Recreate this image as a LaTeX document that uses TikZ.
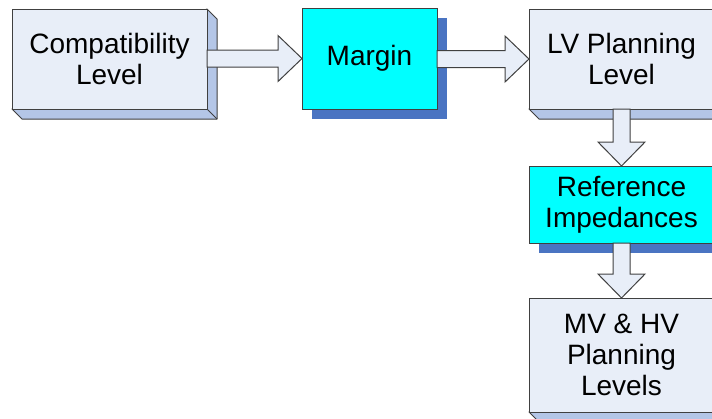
\documentclass[tikz,border=0pt]{standalone}
\usepackage{fontspec}
\setmainfont{Liberation Sans}
\usetikzlibrary{calc}
\definecolor{facec}{HTML}{E8EEF8}
\definecolor{bevelc}{HTML}{B4C6E7}
\definecolor{shadowc}{HTML}{4A74C2}
\definecolor{edgec}{HTML}{404040}
\definecolor{cyanc}{HTML}{00FFFF}
\pgfdeclarelayer{background}
\pgfsetlayers{background,main}
\tikzset{
  txt/.style={font=\fontsize{28}{31}\selectfont, align=center, text=black},
  plainbox/.style={txt, rectangle, draw=edgec, line width=1pt, fill=facec, inner sep=0pt, outer sep=0pt},
  cyanbox/.style={txt, rectangle, draw=edgec, line width=1pt, fill=cyanc, inner sep=0pt, outer sep=0pt},
  bevelsty/.style={fill=bevelc, draw=edgec, line width=1pt, line join=round},
  shadowsty/.style={fill=shadowc},
  arrowsty/.style={fill=facec, draw=edgec, line width=1pt, line join=miter}
}
\newcommand\mybevel[1]{%
  \filldraw[bevelsty] (#1.north east) -- ++(10,10) -- ($(#1.south east)+(10,10)$) -- ($(#1.south west)+(10,10)$) -- (#1.south west) -- cycle;
  \draw[edgec, line width=1pt] (#1.south east) -- ++(10,10);}
\newcommand\myshadow[1]{%
  \fill[shadowsty] ($(#1.north west)+(10,10)$) rectangle ($(#1.south east)+(10,10)$);}
\newcommand\harrow[2]{%
  \filldraw[arrowsty] ($(#1.east |- #2.west)+(0,-8.5)$) -- ($(#2.west)+(-24,-8.5)$) -- ($(#2.west)+(-24,-23)$) -- (#2.west) -- ($(#2.west)+(-24,23)$) -- ($(#2.west)+(-24,8.5)$) -- ($(#1.east |- #2.west)+(0,8.5)$) -- cycle;}
\newcommand\varrow[2]{%
  \filldraw[arrowsty] ($(#1.south)+(-8.5,0)$) -- ($(#2.north)+(-8.5,-24)$) -- ($(#2.north)+(-23.5,-24)$) -- (#2.north) -- ($(#2.north)+(23.5,-24)$) -- ($(#2.north)+(8.5,-24)$) -- ($(#1.south)+(8.5,0)$) -- cycle;}
\begin{document}
\begin{tikzpicture}[x=1pt,y=-1pt]
\useasboundingbox (0,0) rectangle (712,418);
\clip (0,0) rectangle (712,418);
\node[plainbox, minimum width=195pt, minimum height=100pt] (comp) at (109.5,59) {Compatibility\\Level};
\node[cyanbox, minimum width=135pt, minimum height=101pt] (marg) at (369.5,58.5) {Margin};
\node[plainbox, minimum width=185pt, minimum height=100pt] (lv) at (621.5,59) {LV Planning\\Level};
\node[cyanbox, minimum width=185pt, minimum height=77pt] (ref) at (621.5,204.5) {Reference\\Impedances};
\node[plainbox, minimum width=185pt, minimum height=114pt] (mv) at (621.5,355) {MV \& HV\\Planning\\Levels};
\begin{pgfonlayer}{background}
  \mybevel{comp}
  \mybevel{lv}
  \mybevel{mv}
  \myshadow{marg}
  \myshadow{ref}
\end{pgfonlayer}
\harrow{comp}{marg}
\harrow{marg}{lv}
\varrow{lv}{ref}
\varrow{ref}{mv}
\end{tikzpicture}
\end{document}
